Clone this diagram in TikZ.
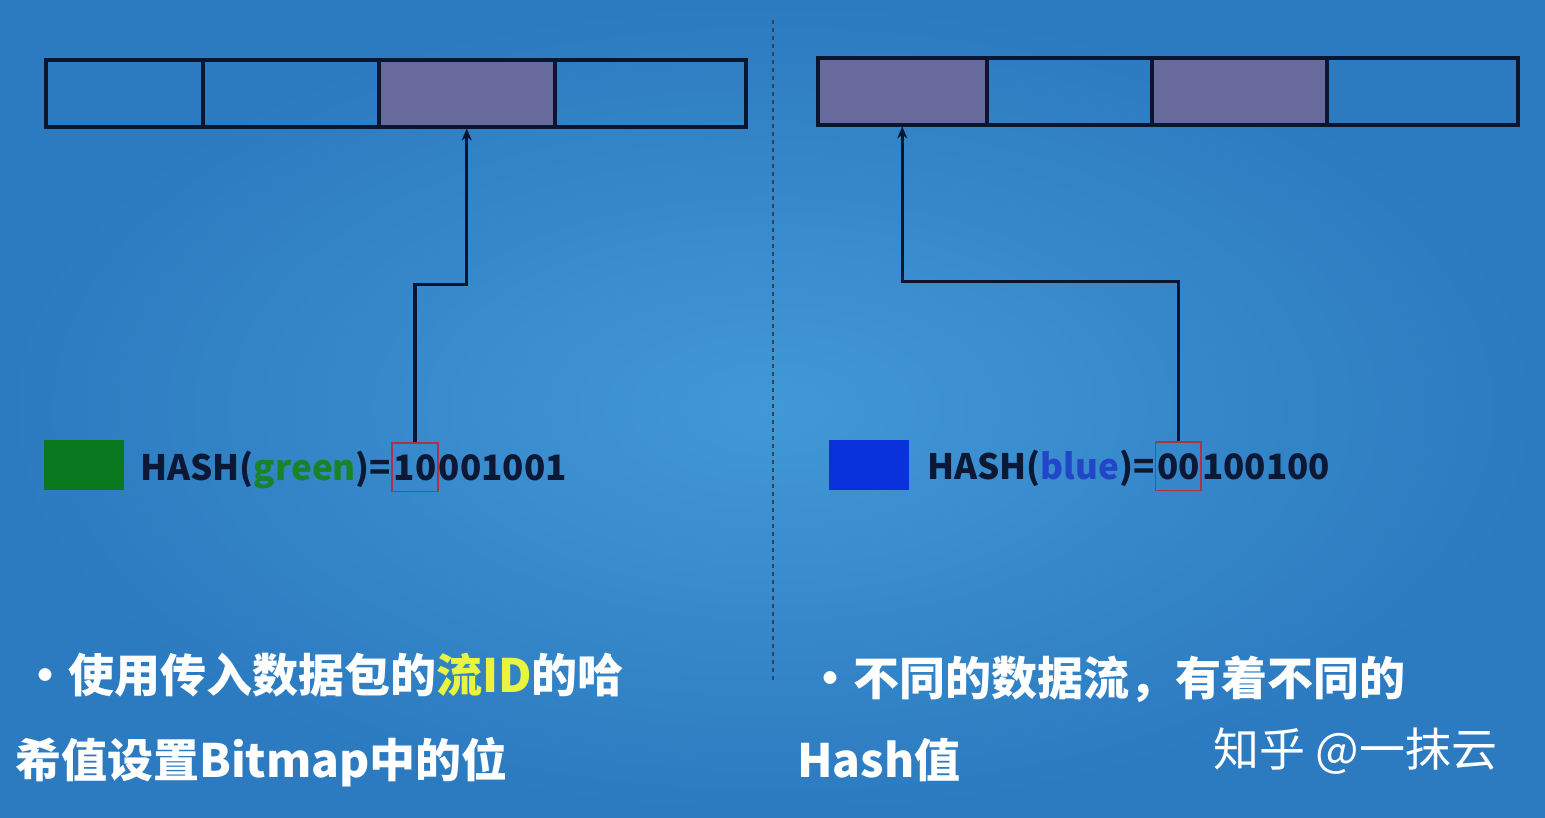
\documentclass[tikz,border=0pt]{standalone}
\usepackage{fontspec}
\setmainfont{Noto Sans CJK SC}
\usepackage{tikz}
\usetikzlibrary{arrows.meta}

\definecolor{bgdark}{RGB}{44,122,192}
\definecolor{bglight}{RGB}{66,152,214}
\definecolor{bitline}{RGB}{10,22,48}
\definecolor{bitset}{RGB}{104,106,156}
\definecolor{navy}{RGB}{12,24,52}
\definecolor{bitred}{RGB}{176,48,72}
\definecolor{flowgreen}{RGB}{10,120,30}
\definecolor{flowblue}{RGB}{10,50,220}
\definecolor{txtgreen}{RGB}{24,132,40}
\definecolor{txtblue}{RGB}{34,70,200}
\definecolor{hilite}{RGB}{232,244,64}

\begin{document}
\begin{tikzpicture}[x=1pt,y=-1pt,
    cell/.style={draw=bitline,line width=3.5pt,inner sep=0pt,
        minimum height=67pt,anchor=north west},
    hashtxt/.style={font=\fontsize{35}{38}\selectfont\bfseries,
        text=navy,inner sep=0pt,anchor=base west},
    bitbox/.style={draw=bitred,line width=1.5pt,inner xsep=1.5pt,
        inner ysep=11pt},
    swatch/.style={inner sep=0pt,minimum width=80pt,minimum height=50pt,
        anchor=north west},
    ptr/.style={draw=bitline,line width=3.2pt,
        -{Stealth[length=12pt,width=10pt]}},
    note/.style={font=\fontsize{46}{52}\selectfont\bfseries,
        text=white,inner sep=0pt,anchor=base west}]

    \useasboundingbox (0,0) rectangle (1545,817);
    \shade[inner color=bglight,outer color=bgdark] (0,0) rectangle (1545,817);

    \draw[gray!40!bitline,line width=1.4pt,dash pattern=on 4pt off 4pt]
        (773,20) -- (773,680);

    \foreach [count=\i] \a/\b/\f in {44/201/none,201/377/none,377/553/bitset,553/744/none} {
        \pgfmathsetmacro{\w}{\b-\a}
        \node[cell,fill=\f,minimum width=\w pt] (lc\i) at (\a,58) {};
    }
    \foreach [count=\i] \a/\b/\f in {816/985/bitset,985/1150/none,1150/1325/bitset,1325/1516/none} {
        \pgfmathsetmacro{\w}{\b-\a}
        \node[cell,fill=\f,minimum width=\w pt] (rc\i) at (\a,56) {};
    }

    \node[swatch,fill=flowgreen] (lsw) at (44,440) {};
    \node[hashtxt] (lhash) at (140,480) {HASH(\textcolor{txtgreen}{green})=};
    \node[hashtxt,bitbox] (hl10) at (lhash.base east) {10};
    \node[hashtxt] (lrest) at (hl10.base east) {001001};

    \node[swatch,fill=flowblue] (rsw) at (829,440) {};
    \node[hashtxt] (rhash) at (927,479) {HASH(\textcolor{txtblue}{blue})=};
    \node[hashtxt,bitbox] (hr00) at (rhash.base east) {00};
    \node[hashtxt] (rrest) at (hr00.base east) {100100};

    \draw[ptr] (hl10.north) -- ++(0,-158) -| (lc3.south);
    \draw[ptr] (hr00.north) -- ++(0,-160) -| (rc1.south);

    \node[note] (lnote1) at (22,692) {·使用传入数据包的\textcolor{hilite}{流ID}的哈};
    \node[note] (lnote2) at (15,777) {希值设置Bitmap中的位};
    \node[note] (rnote1) at (807,695) {·不同的数据流，有着不同的};
    \node[note] (rnote2) at (797,777) {Hash值};

    \node[font=\fontsize{46}{50}\selectfont,text=white,inner sep=0pt,
        anchor=base west] (mark) at (1213,766) {知乎 @一抹云};
\end{tikzpicture}
\end{document}
